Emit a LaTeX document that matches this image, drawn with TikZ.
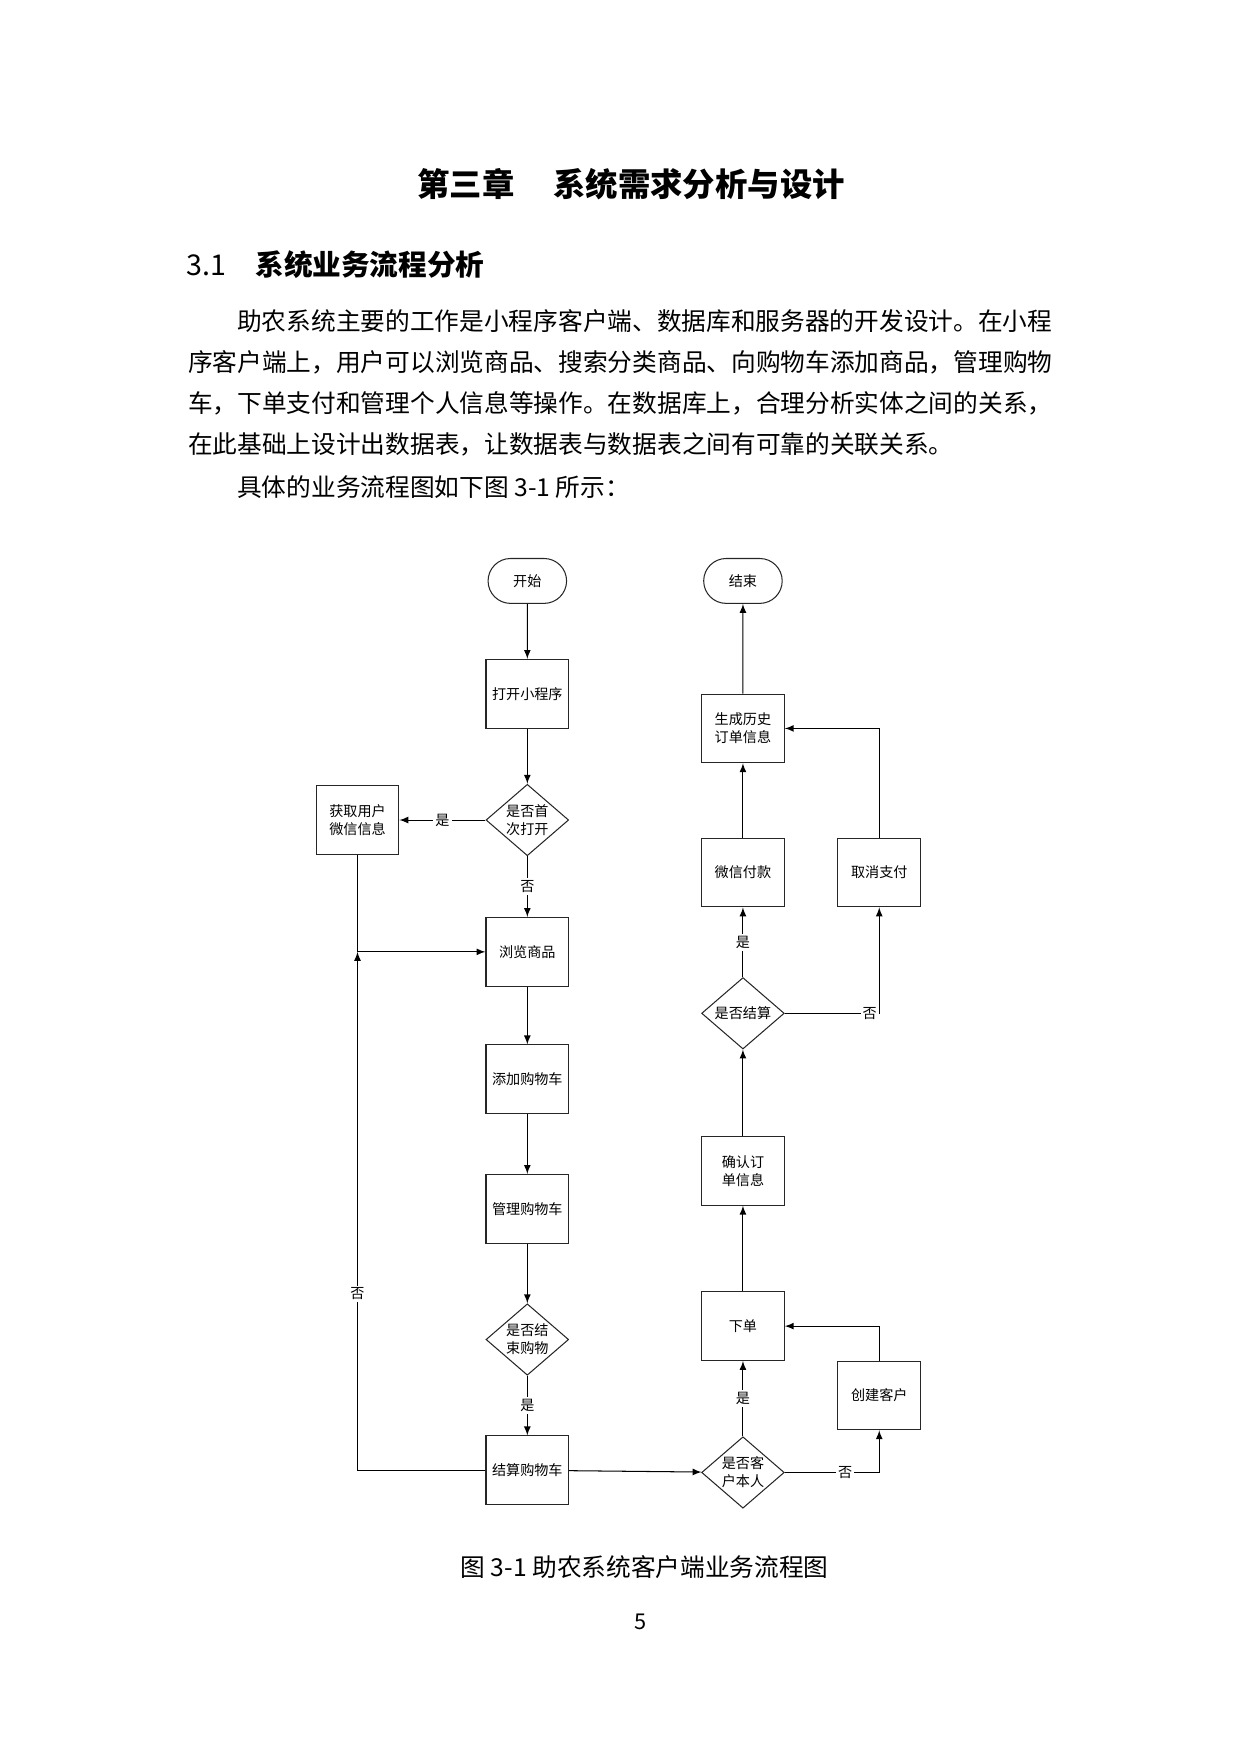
\documentclass[tikz,border=0pt]{standalone}
\usepackage{fontspec}
\newfontfamily\cjk{Noto Sans CJK SC}
\usetikzlibrary{arrows,shapes.geometric,shapes.misc}
\newcommand{\flowfont}{\cjk\fontsize{6.8}{8.6}\selectfont}
\newcommand{\bodyfont}{\cjk\fontsize{11.9}{14}\selectfont}
\tikzset{
  proc/.style={draw=black!85, line width=0.5pt, minimum width=1.4cm, minimum height=1.163cm, inner sep=1pt, align=center, font=\flowfont},
  term/.style={proc, rounded rectangle, minimum height=0.76cm},
  judge/.style={draw=black!85, line width=0.5pt, diamond, aspect=1.15, inner sep=0pt, minimum width=1.4cm, minimum height=1.21cm, align=center, font=\flowfont},
  tag/.style={fill=white, inner sep=1pt, font=\flowfont},
  flow/.style={->, >=latex, line width=0.5pt},
  line/.style={inner sep=0pt, anchor=west, font=\bodyfont},
}
\begin{document}
\begin{tikzpicture}[x=0.01892cm,y=-0.01892cm]
        \useasboundingbox (0,0) rectangle (1110,1570);
        % headings and text
        \node [font=\cjk\bfseries\fontsize{15.6}{16}\selectfont] (title) at (565,165) {第三章\hspace{1.2em}系统需求分析与设计};
        \node [anchor=west, inner sep=0pt, font=\cjk\fontsize{13.8}{14}\selectfont] (sec) at (167,237) {3.1\hspace{1em}\bfseries 系统业务流程分析};
        \node [line] (l1) at (212,287) {助农系统主要的工作是小程序客户端、数据库和服务器的开发设计。在小程};
        \node [line] (l2) at (168,324) {序客户端上，用户可以浏览商品、搜索分类商品、向购物车添加商品，管理购物};
        \node [line] (l3) at (168,361) {车，下单支付和管理个人信息等操作。在数据库上，合理分析实体之间的关系，};
        \node [line] (l4) at (168,398) {在此基础上设计出数据表，让数据表与数据表之间有可靠的关联关系。};
        \node [line] (l5) at (212,436) {具体的业务流程图如下图 3-1 所示：};
        % left column
        \node [term] (start) at (472,520) {开始};
        \node [proc] (open) at (472,621) {打开小程序};
        \node [judge] (first) at (472,734) {是否首\\次打开};
        \node [proc] (getinfo) at (320,734) {获取用户\\微信信息};
        \node [proc] (browse) at (472,852) {浏览商品};
        \node [proc] (addcart) at (472,966) {添加购物车};
        \node [proc] (mancart) at (472,1082) {管理购物车};
        \node [judge] (endshop) at (472,1199) {是否结\\束购物};
        \node [proc] (settle) at (472,1316) {结算购物车};
        % right column
        \node [term] (finish) at (665,520) {结束};
        \node [proc] (history) at (665,652) {生成历史\\订单信息};
        \node [proc] (pay) at (665,781) {微信付款};
        \node [proc] (cancel) at (787,781) {取消支付};
        \node [judge] (paychk) at (665,907) {是否结算};
        \node [proc] (confirm) at (665,1048) {确认订\\单信息};
        \node [proc] (order) at (665,1187) {下单};
        \node [proc] (create) at (787,1249) {创建客户};
        \node [judge] (own) at (665,1318) {是否客\\户本人};
        \coordinate (j) at (getinfo |- browse);
        \draw [flow] (start)--(open);
        \draw [flow] (open)--(first);
        \draw [flow] (first)-- node[tag]{是} (getinfo);
        \draw [flow] (first)-- node[tag]{否} (browse);
        \draw [line width=0.5pt] (getinfo)--(j);
        \draw [flow] (j)--(browse);
        \draw [flow] (browse)--(addcart);
        \draw [flow] (addcart)--(mancart);
        \draw [flow] (mancart)--(endshop);
        \draw [flow] (endshop)-- node[tag]{是} (settle);
        \draw [flow] (settle)-|node[tag,pos=0.67]{否} (j);
        \draw [flow] (settle)--(own);
        \draw [flow] (own)-- node[tag]{是} (order);
        \draw [flow] (own)-|node[tag,pos=0.32]{否} (create);
        \draw [flow] (create)|-(order);
        \draw [flow] (order)--(confirm);
        \draw [flow] (confirm)--(paychk);
        \draw [flow] (paychk)-- node[tag]{是} (pay);
        \draw [flow] (paychk)-|node[tag,pos=0.45]{否} (cancel);
        \draw [flow] (cancel)|-(history);
        \draw [flow] (pay)--(history);
        \draw [flow] (history)--(finish);
        % caption and page number
        \node [font=\bodyfont] (cap) at (577,1403) {图 3-1 助农系统客户端业务流程图};
        \node [font=\cjk\fontsize{10.5}{12}\selectfont] (page) at (573,1452) {5};
      \end{tikzpicture}
\end{document}
